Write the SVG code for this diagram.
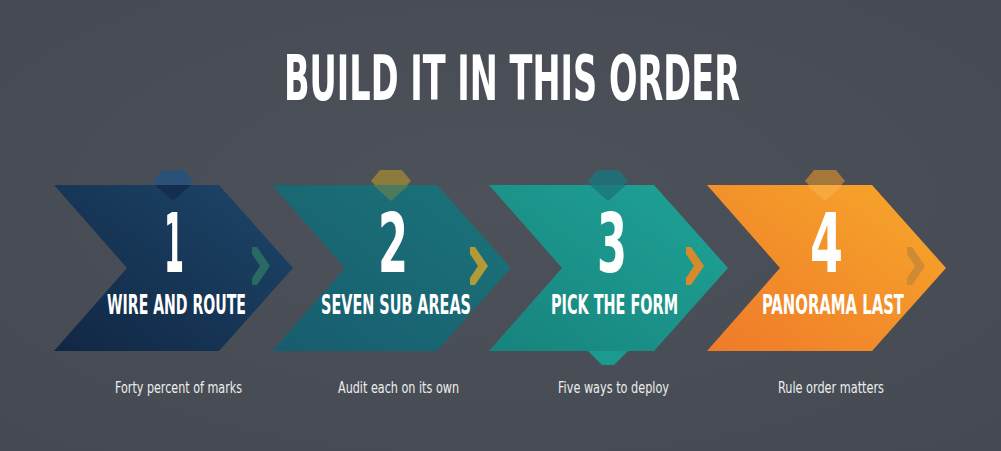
<svg xmlns="http://www.w3.org/2000/svg" width="1001" height="451" viewBox="0 0 1001 451">
<defs>
<style>
.t{font-family:"Liberation Sans Narrow","DejaVu Sans Condensed","Liberation Sans",sans-serif;font-weight:bold;fill:#ffffff}
.s{font-family:"Liberation Sans Narrow","DejaVu Sans Condensed","Liberation Sans",sans-serif;font-size:16px;fill:#eeeeee}
</style>
<radialGradient id="bg" cx="0.5" cy="0.45" r="0.75">
<stop offset="0" stop-color="#4d525a"/>
<stop offset="1" stop-color="#454a52"/>
</radialGradient>
<linearGradient id="g1" x1="0" y1="1" x2="1" y2="0">
<stop offset="0" stop-color="#112744"/>
<stop offset="1" stop-color="#1d466a"/>
</linearGradient>
<linearGradient id="g2" x1="0" y1="1" x2="1" y2="0">
<stop offset="0" stop-color="#175c6e"/>
<stop offset="1" stop-color="#1b747a"/>
</linearGradient>
<linearGradient id="g3" x1="0" y1="1" x2="1" y2="0">
<stop offset="0" stop-color="#17837d"/>
<stop offset="1" stop-color="#1fa497"/>
</linearGradient>
<linearGradient id="g4" x1="0" y1="1" x2="1" y2="0">
<stop offset="0" stop-color="#ef7a2a"/>
<stop offset="1" stop-color="#f7a82a"/>
</linearGradient>
<polygon id="chev" points="0,185 165,185 239,268 165,351 0,351 73,268"/>
<polygon id="mini" points="0,247 5,247 18,266 5,285 0,285 0,278 8,266 0,254"/>
</defs>
<rect width="1001" height="451" fill="url(#bg)"/>
<g id="title">
<text class="t" x="284" y="100" font-size="62" textLength="456" lengthAdjust="spacingAndGlyphs">BUILD IT IN THIS ORDER</text>
</g>
<g id="step1">
<polygon points="162,170 184,170 193,181 173,201 153,181" fill="#2b5276"/>
<use href="#chev" x="54" fill="url(#g1)"/>
<polygon points="155,185 191,185 173,201" fill="#132e4e"/>
<use href="#mini" x="252" fill="#2a6a62"/>
<text class="t" x="164" y="272" font-size="82" textLength="20" lengthAdjust="spacingAndGlyphs">1</text>
<text class="t" x="107" y="314" font-size="26" textLength="139" lengthAdjust="spacingAndGlyphs">WIRE AND ROUTE</text>
<text class="s" x="115" y="393" textLength="127" lengthAdjust="spacingAndGlyphs">Forty percent of marks</text>
</g>
<g id="step2">
<polygon points="380,170 402,170 411,181 391,201 371,181" fill="#8c7b3c"/>
<use href="#chev" x="272" fill="url(#g2)"/>
<polygon points="373,185 409,185 391,201" fill="#4e7a5c"/>
<use href="#mini" x="470" fill="#b39a38"/>
<text class="t" x="378" y="272" font-size="82" textLength="30" lengthAdjust="spacingAndGlyphs">2</text>
<text class="t" x="321" y="314" font-size="26" textLength="150" lengthAdjust="spacingAndGlyphs">SEVEN SUB AREAS</text>
<text class="s" x="338" y="393" textLength="121" lengthAdjust="spacingAndGlyphs">Audit each on its own</text>
</g>
<g id="step3">
<polygon points="597,170 619,170 628,181 608,201 588,181" fill="#236e74"/>
<use href="#chev" x="489" fill="url(#g3)"/>
<polygon points="590,185 626,185 608,201" fill="#1b7e7c"/>
<polygon points="588,351 628,351 614,365 602,365" fill="#1d9a90"/>
<use href="#mini" x="686" fill="#d68a2c"/>
<text class="t" x="597" y="272" font-size="82" textLength="30" lengthAdjust="spacingAndGlyphs">3</text>
<text class="t" x="551" y="314" font-size="26" textLength="127" lengthAdjust="spacingAndGlyphs">PICK THE FORM</text>
<text class="s" x="558" y="393" textLength="111" lengthAdjust="spacingAndGlyphs">Five ways to deploy</text>
</g>
<g id="step4">
<polygon points="814,170 836,170 845,181 825,201 805,181" fill="#a6773a"/>
<use href="#chev" x="707" fill="url(#g4)"/>
<polygon points="807,185 843,185 825,201" fill="#f6a93e"/>
<use href="#mini" x="907" fill="#cf8a34"/>
<text class="t" x="810" y="272" font-size="82" textLength="33" lengthAdjust="spacingAndGlyphs">4</text>
<text class="t" x="762" y="314" font-size="26" textLength="142" lengthAdjust="spacingAndGlyphs">PANORAMA LAST</text>
<text class="s" x="778" y="393" textLength="106" lengthAdjust="spacingAndGlyphs">Rule order matters</text>
</g>
<g id="connectors"></g>
</svg>
